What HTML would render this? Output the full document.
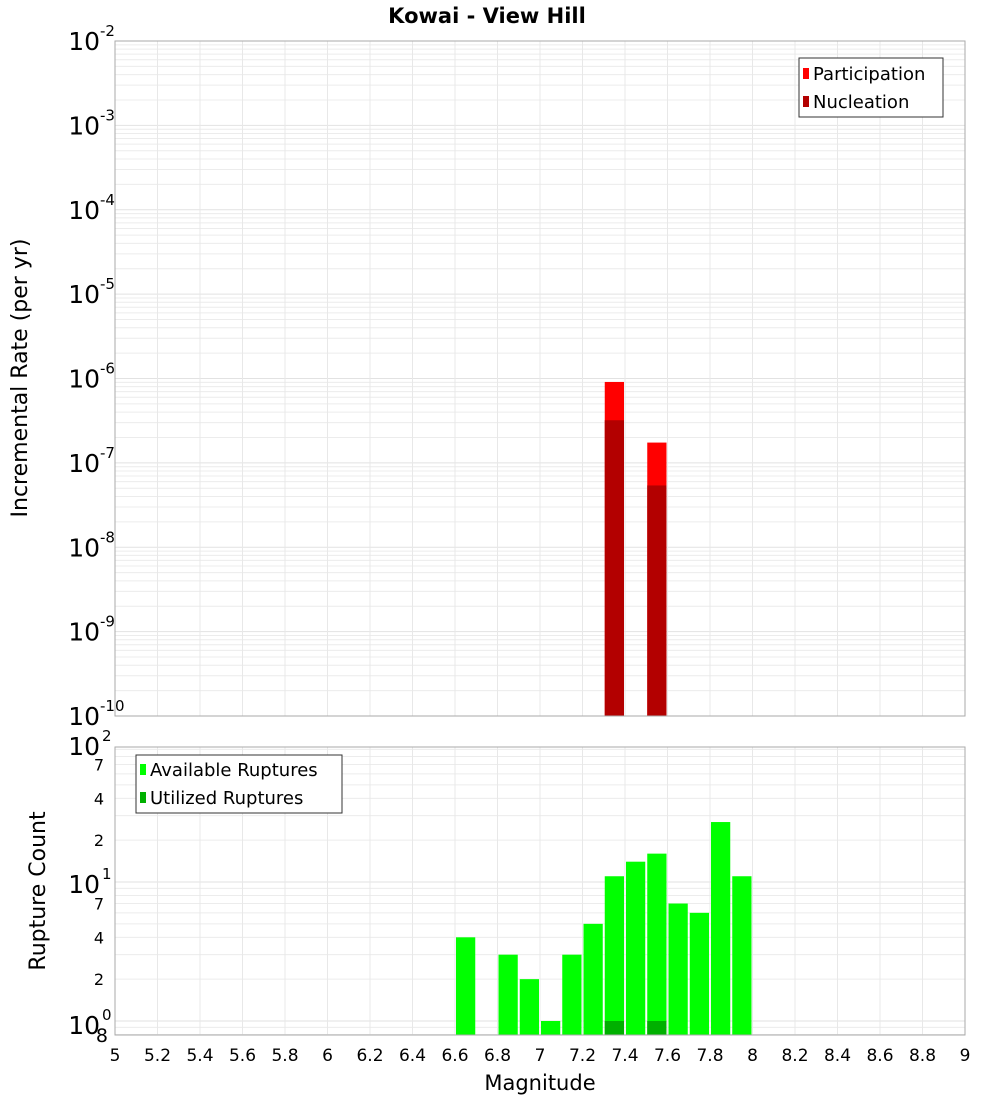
<!DOCTYPE html>
<html><head><meta charset="utf-8"><style>
body{margin:0;background:#fff;font-family:"Liberation Sans","DejaVu Sans",sans-serif}
</style></head><body>
<svg id="chart" width="1000" height="1100" xmlns="http://www.w3.org/2000/svg" font-family="DejaVu Sans, Liberation Sans, sans-serif">
<text x="487" y="23" text-anchor="middle" font-size="21" font-weight="bold">Kowai - View Hill</text>
<g id="topg"></g><g id="botg"></g>
<text transform="translate(27,378) rotate(-90)" text-anchor="middle" font-size="22">Incremental Rate (per yr)</text>
<text transform="translate(45,891) rotate(-90)" text-anchor="middle" font-size="22">Rupture Count</text>
<text x="540" y="1090" text-anchor="middle" font-size="21">Magnitude</text>
</svg>
<script>
const rateMags=[7.35,7.55];
const participation=[9.1e-7,1.74e-7];
const nucleation=[3.2e-7,5.4e-8];
const countMags=[6.65,6.85,6.95,7.05,7.15,7.25,7.35,7.45,7.55,7.65,7.75,7.85,7.95];
const available=[4,3,2,1,3,5,11,14,16,7,6,27,11];
const utilMags=[7.35,7.55];
const utilized=[1,1];
const xTicks=["5","5.2","5.4","5.6","5.8","6","6.2","6.4","6.6","6.8","7","7.2","7.4","7.6","7.8","8","8.2","8.4","8.6","8.8","9"];
const topExps=[-2,-3,-4,-5,-6,-7,-8,-9,-10];
const botMinor=[2,4,7];

const NS="http://www.w3.org/2000/svg";
const L=115,R=965;
const X=m=>L+(m-5)/4*(R-L);
const T0=41,T1=716;
const Ytop=v=>T0+(-2-Math.log10(v))/8*(T1-T0);
const B0=747,B1=1035;
const Ybot=v=>1021-Math.log10(v)*139;
function el(p,tag,a,txt){const e=document.createElementNS(NS,tag);for(const k in a)e.setAttribute(k,a[k]);if(txt!=null)e.textContent=txt;p.appendChild(e);return e;}
const topG=document.getElementById('topg'),botG=document.getElementById('botg');

let r=el(topG,'rect',{x:L,y:T0,width:R-L,height:T1-T0,fill:'#fff'});


for(let e=-10;e<-2;e++)for(let k=1;k<10;k++){const y=Ytop(k*Math.pow(10,e));
 const g=el(topG,'line',{x1:L,x2:R,y1:y,y2:y,stroke:k==1?'#e2e2e2':'#ececec','stroke-width':1});
 
 }
xTicks.forEach(t=>{const x=X(+t);const g=el(topG,'line',{x1:x,x2:x,y1:T0,y2:T1,stroke:'#e8e8e8'});
 
 });
rateMags.forEach((m,i)=>{
 const x=X(m-0.05)+1,w=X(m+0.05)-X(m-0.05)-2;
 let b=el(topG,'rect',{x:x,y:Ytop(participation[i]),width:w,height:T1-Ytop(participation[i]),fill:'#ff0000'});
 
 
 b=el(topG,'rect',{x:x,y:Ytop(nucleation[i]),width:w,height:T1-Ytop(nucleation[i]),fill:'#b30000'});
 
 
});
r=el(topG,'rect',{x:L,y:T0,width:R-L,height:T1-T0,fill:'none',stroke:'#aaa'});


topExps.forEach(e=>{const y=Ytop(Math.pow(10,e))+9;
 const t=el(topG,'text',{x:100,y:y,'text-anchor':'end','font-size':25},'10');
 
 
 const s=el(topG,'text',{x:100,y:y-14,'font-size':15},String(e));
 
 });
let lg=el(topG,'g',{});


el(lg,'rect',{x:799,y:58,width:144,height:59,fill:'#fff',stroke:'#333'});
el(lg,'rect',{x:803,y:68,width:6,height:11,fill:'#ff0000'});
el(lg,'text',{x:813,y:80,'font-size':18},'Participation');
el(lg,'rect',{x:803,y:96,width:6,height:11,fill:'#b30000'});
el(lg,'text',{x:813,y:108,'font-size':18},'Nucleation');

r=el(botG,'rect',{x:L,y:B0,width:R-L,height:B1-B0,fill:'#fff'});


for(let e=-1;e<2;e++)for(let k=1;k<10;k++){const y=Ybot(k*Math.pow(10,e));if(y<B0||y>B1)continue;
 const g=el(botG,'line',{x1:L,x2:R,y1:y,y2:y,stroke:k==1?'#e2e2e2':'#ececec'});
 
 }
xTicks.forEach(t=>{const x=X(+t);const g=el(botG,'line',{x1:x,x2:x,y1:B0,y2:B1,stroke:'#e8e8e8'});
 
 
 const l=el(botG,'text',{x:x,y:1061,'text-anchor':'middle','font-size':17},t);
 
 });
countMags.forEach((m,i)=>{const x=X(m-0.05)+1,w=X(m+0.05)-X(m-0.05)-2;
 const b=el(botG,'rect',{x:x,y:Ybot(available[i]),width:w,height:B1-Ybot(available[i]),fill:'#00ff00'});
 
 });
utilMags.forEach((m,i)=>{const x=X(m-0.05)+1,w=X(m+0.05)-X(m-0.05)-2;
 const b=el(botG,'rect',{x:x,y:Ybot(utilized[i]),width:w,height:B1-Ybot(utilized[i]),fill:'#00b000'});
 
 });
r=el(botG,'rect',{x:L,y:B0,width:R-L,height:B1-B0,fill:'none',stroke:'#aaa'});


[[2,755],[1,893],[0,1034]].forEach(([e,y])=>{
 const t=el(botG,'text',{x:100,y:y,'text-anchor':'end','font-size':25},'10');
 
 
 const s=el(botG,'text',{x:102,y:y-14,'font-size':15},String(e));
 
 });
[1,10].forEach(d=>botMinor.forEach(k=>{const y=Ybot(k*d)+6;
 const t=el(botG,'text',{x:104,y:y,'text-anchor':'end','font-size':16},String(k));
 
 }));
const t8=el(botG,'text',{x:108,y:1042,'text-anchor':'end','font-size':19},'8');


lg=el(botG,'g',{});


el(lg,'rect',{x:136,y:755,width:206,height:58,fill:'#fff',stroke:'#333'});
el(lg,'rect',{x:140,y:764,width:6,height:11,fill:'#00ff00'});
el(lg,'text',{x:150,y:776,'font-size':18},'Available Ruptures');
el(lg,'rect',{x:140,y:792,width:6,height:11,fill:'#00b000'});
el(lg,'text',{x:150,y:804,'font-size':18},'Utilized Ruptures');
</script>
</body></html>
